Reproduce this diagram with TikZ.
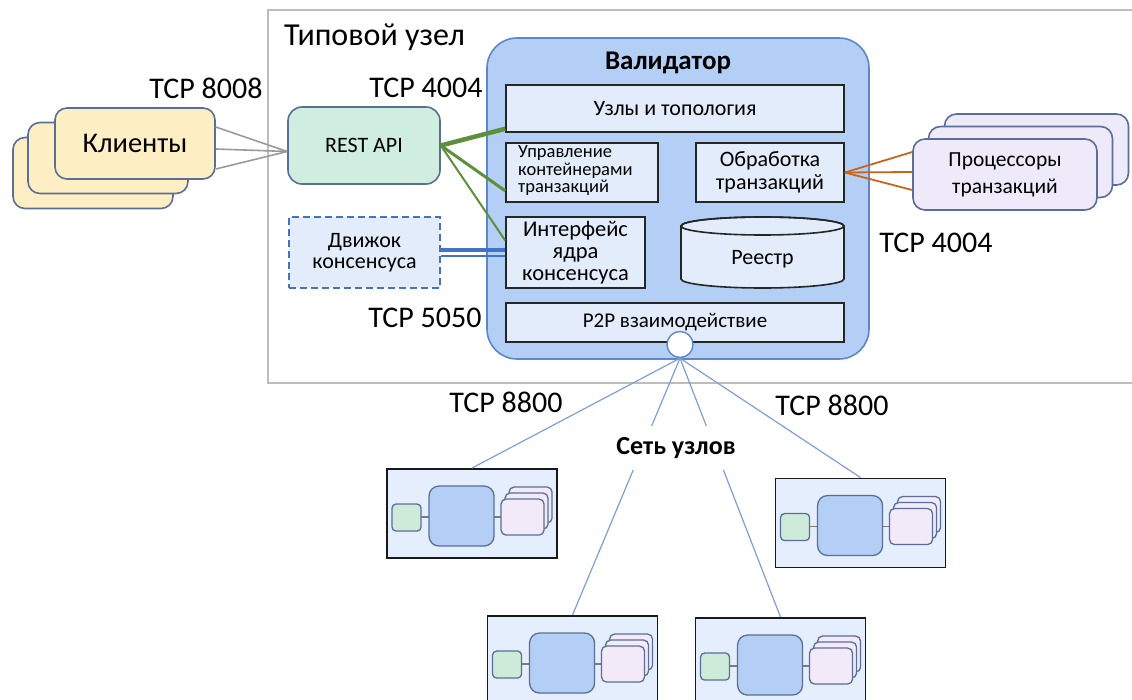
\documentclass[tikz,border=0pt]{standalone}
\usepackage{fontspec}
\setmainfont{Carlito}
\definecolor{valfill}{HTML}{B4CFF6}
\definecolor{valdraw}{HTML}{5F86C8}
\definecolor{innerfill}{HTML}{E3ECFA}
\definecolor{clientfill}{HTML}{FDEFC3}
\definecolor{restfill}{HTML}{CFEEDF}
\definecolor{procfill}{HTML}{EEEAFA}
\definecolor{boxdraw}{HTML}{5A6E98}
\definecolor{greenline}{HTML}{5E8F3A}
\definecolor{orangeline}{HTML}{C8651B}
\definecolor{blueline}{HTML}{4472C4}
\definecolor{netline}{HTML}{7F9ED4}
\definecolor{grayline}{HTML}{9A9A9A}
\definecolor{outerline}{HTML}{BDBDBD}
\definecolor{minifill}{HTML}{E4EEFC}
\definecolor{minigreen}{HTML}{CDEBD8}
\definecolor{minipink}{HTML}{F2EAF8}
\tikzset{
  inner/.style={draw=black!85, line width=1.6pt, fill=innerfill, inner sep=0pt, font=\fontsize{22}{23}\selectfont, align=center},
  stackbox/.style={draw=boxdraw, line width=1.6pt, rounded corners=12pt, inner sep=0pt},
  tcp/.style={font=\fontsize{30}{32}\selectfont, inner sep=0pt},
  minibox/.style={draw=black!90, line width=1.9pt, fill=minifill, minimum width=170pt, minimum height=89pt, inner sep=0pt},
  minipart/.style={draw=boxdraw, line width=1.3pt},
  mini/.pic={
    \draw[grayline!80!black, line width=1.2pt] (35,49) -- (43,49) (108,49) -- (115,49);
    \draw[minipart, fill=minigreen, rounded corners=4pt] (6,36) rectangle (35,63);
    \draw[minipart, fill=valfill, rounded corners=10pt] (43,18) rectangle (108,78);
    \draw[minipart, fill=minipink, rounded corners=5pt] (123,19) rectangle (166,55);
    \draw[minipart, fill=minipink, rounded corners=5pt] (119,25) rectangle (162,61);
    \draw[minipart, fill=minipink, rounded corners=5pt] (115,31) rectangle (158,67);
  }
}
\begin{document}
\begin{tikzpicture}[x=1pt,y=-1pt]
\useasboundingbox (0,0) rectangle (1132,700);
% outer typical node
\draw[outerline, line width=1.2pt] (1145,10) -- (268,10) -- (268,383) -- (1145,383);
\node[anchor=west, font=\fontsize{32}{34}\selectfont, inner sep=0pt] (typlabel) at (284,37) {Типовой узел};
% validator
\node[draw=valdraw, line width=1.6pt, fill=valfill, rounded corners=30pt, minimum width=382pt, minimum height=321pt, inner sep=0pt] (val) at (678,198.5) {};
\node[font=\bfseries\fontsize{27}{29}\selectfont, inner sep=0pt] (valtitle) at (668,63) {Валидатор};
\node[inner, minimum width=338pt, minimum height=47pt] (uzly) at (675,108.5) {Узлы и топология};
\node[inner, minimum width=152pt, minimum height=59pt] (uprav) at (582,172.5) {};
\node[anchor=west, align=left, inner sep=0pt, font=\fontsize{18.5}{17.5}\selectfont] (upravtext) at (518,171) {Управление\\контейнерами\\транзакций};
\node[inner, minimum width=148pt, minimum height=59pt] (obrab) at (770,172.5) {Обработка\\транзакций};
\node[inner, minimum width=139pt, minimum height=71pt, font=\fontsize{22.5}{22}\selectfont] (interf) at (575.5,252.5) {Интерфейс\\ядра\\консенсуса};
\node[minimum width=163pt, minimum height=71pt, inner sep=0pt] (reestr) at (762.5,252.5) {};
\draw[draw=black!85, line width=1.6pt, fill=innerfill] (681,226) -- (681,279) arc[start angle=180, end angle=360, x radius=81.5pt, y radius=9pt] -- (844,226) arc[start angle=0, end angle=180, x radius=81.5pt, y radius=9pt] -- cycle;
\draw[draw=black!85, line width=1.6pt] (762.5,226) ellipse[x radius=81.5pt, y radius=9pt];
\node[font=\fontsize{22}{23}\selectfont, inner sep=0pt] (reestrtext) at (762.5,259) {Реестр};
\node[inner, minimum width=338pt, minimum height=39pt, font=\fontsize{21}{23}\selectfont] (p2p) at (675,322.5) {P2P взаимодействие};
\node[circle, draw=valdraw, line width=1.4pt, fill=white, minimum size=26pt, inner sep=0pt] (circ) at (680,344.5) {};
% REST API and engine
\node[stackbox, fill=restfill, rounded corners=14pt, minimum width=152pt, minimum height=77pt, font=\fontsize{22}{24}\selectfont] (rest) at (364,145.5) {REST API};
\node[draw=blueline, dash pattern=on 7pt off 4pt, line width=1.4pt, fill=innerfill, minimum width=151pt, minimum height=71pt, inner sep=0pt, align=center, font=\fontsize{22}{21}\selectfont] (engine) at (364.5,252.5) {Движок\\консенсуса};
% clients
\node[stackbox, fill=clientfill, minimum width=160pt, minimum height=71pt] (cl3) at (93,173) {};
\node[stackbox, fill=clientfill, minimum width=160pt, minimum height=71pt] (cl2) at (108,158) {};
\node[stackbox, fill=clientfill, minimum width=160pt, minimum height=71pt, font=\fontsize{28.5}{30}\selectfont] (cl1) at (135,143.5) {Клиенты};
% processors
\node[stackbox, fill=procfill, minimum width=184pt, minimum height=71pt] (pr3) at (1036.5,149.5) {};
\node[stackbox, fill=procfill, minimum width=184pt, minimum height=71pt] (pr2) at (1020.5,162) {};
\node[stackbox, fill=procfill, minimum width=184pt, minimum height=71pt, align=center, font=\fontsize{21.5}{27}\selectfont] (pr1) at (1005,174.5) {Процессоры\\транзакций};
% TCP labels
\node[tcp] (t8008) at (206,88) {TCP 8008};
\node[tcp] (t4004a) at (426,88) {TCP 4004};
\node[tcp] (t4004b) at (936,243) {TCP 4004};
\node[tcp] (t5050) at (425,318) {TCP 5050};
\node[tcp] (t8800a) at (506,402) {TCP 8800};
\node[tcp] (t8800b) at (832,405) {TCP 8800};
% connectors
\draw[grayline, line width=1.6pt] ([yshift=16.5pt]cl1.east) -- ([yshift=-6pt]rest.west);
\draw[grayline, line width=1.6pt] ([yshift=-5.5pt]cl1.east) -- ([yshift=-6pt]rest.west);
\draw[grayline, line width=1.6pt] ([yshift=-25.5pt]cl1.east) -- ([yshift=-6pt]rest.west);
\draw[greenline, line width=4.5pt] (rest.east) -- ([yshift=4pt]uzly.south west);
\draw[greenline, line width=3pt] (rest.east) -- ([yshift=12pt]uprav.south west);
\draw[greenline, line width=2pt] (rest.east) -- ([yshift=12pt]interf.west);
\draw[blueline, line width=4pt] ([yshift=2.5pt]engine.east) -- ([yshift=2.5pt]interf.west);
\draw[blueline, line width=1.5pt] ([yshift=-3.5pt]engine.east) -- ([yshift=-3.5pt]interf.west);
\draw[orangeline, line width=1.8pt] (obrab.east) -- ([yshift=22.5pt]pr1.west);
\draw[orangeline, line width=1.8pt] (obrab.east) -- ([yshift=2.5pt]pr1.west);
\draw[orangeline, line width=1.8pt] (obrab.east) -- ([yshift=-15.5pt]pr1.west);
% network
\node[minibox] (m1) at (472,513.5) {};
\node[minibox] (m2) at (860.5,523) {};
\node[minibox] (m3) at (572.5,660.5) {};
\node[minibox] (m4) at (780.5,662.5) {};
\pic at (m1.north west) {mini};
\pic at (m2.north west) {mini};
\pic at (m3.north west) {mini};
\pic at (m4.north west) {mini};
\draw[netline, line width=1.2pt] (circ.south) -- (m1.north);
\draw[netline, line width=1.2pt] (circ.south) -- (m2.north);
\draw[netline, line width=1.2pt] (circ.south) -- (m3.north);
\draw[netline, line width=1.2pt] (circ.south) -- (m4.north);
\node[fill=white, inner xsep=2pt, inner ysep=11pt, font=\bfseries\fontsize{26}{28}\selectfont] (net) at (676,448) {Сеть узлов};
\end{tikzpicture}
\end{document}
